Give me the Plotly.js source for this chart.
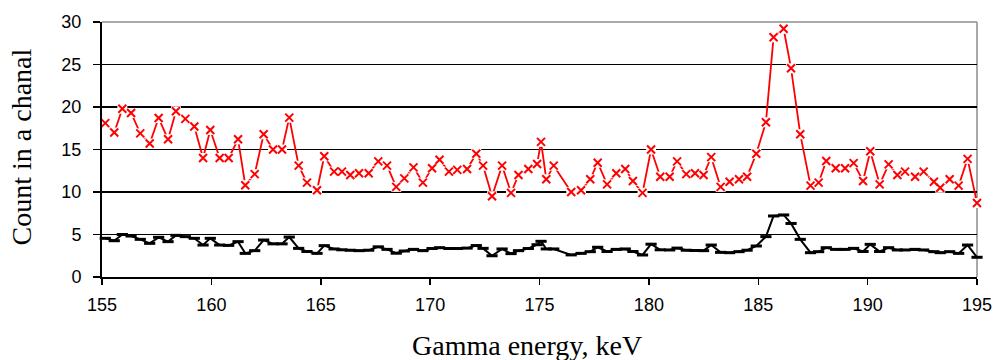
<!DOCTYPE html>
<html>
<head>
<meta charset="utf-8">
<script src="https://cdn.plot.ly/plotly-3.0.1.min.js"></script>
<style>
  html, body { margin: 0; padding: 0; background: #ffffff; }
  #chart { width: 997px; height: 360px; }
</style>
</head>
<body>
<div id="chart"></div>
<script>
// Gamma energy of each channel (keV)
const energyKeV = [155.15,155.56,155.93,156.33,156.75,157.18,157.59,158.02,158.38,158.81,
  159.22,159.62,159.95,160.38,160.79,161.22,161.55,161.98,162.39,162.82,
  163.23,163.56,163.99,164.37,164.83,165.16,165.61,165.97,166.35,166.75,
  167.19,167.63,168.03,168.45,168.82,169.24,169.67,170.09,170.43,170.86,
  171.24,171.69,172.11,172.42,172.83,173.29,173.70,174.04,174.49,174.89,
  175.07,175.31,175.65,176.45,176.90,177.32,177.66,178.09,178.51,178.92,
  179.27,179.71,180.10,180.52,180.95,181.29,181.71,182.11,182.50,182.85,
  183.28,183.69,184.12,184.49,184.91,185.35,185.70,186.16,186.50,186.92,
  187.39,187.76,188.11,188.54,188.97,189.36,189.79,190.12,190.55,190.96,
  191.36,191.71,192.17,192.56,193.03,193.32,193.75,194.16,194.57,195.00];

// Upper (red) spectrum counts
const redCounts = [18.1,17.0,19.8,19.3,16.9,15.7,18.7,16.2,19.5,18.6,
  17.7,14.0,17.3,14.0,14.0,16.2,10.8,12.1,16.8,15.0,
  15.0,18.75,13.1,11.1,10.2,14.2,12.4,12.4,12.0,12.2,
  12.2,13.6,13.1,10.6,11.6,12.9,11.1,12.8,13.8,12.4,
  12.6,12.7,14.5,13.1,9.5,13.1,9.9,12.0,12.7,13.3,
  15.9,11.5,13.1,10.0,10.2,11.5,13.45,10.9,12.2,12.7,
  11.3,9.9,15.0,11.8,11.8,13.6,12.1,12.2,12.0,14.1,
  10.6,11.2,11.5,11.8,14.5,18.2,28.2,29.2,24.55,16.8,
  10.75,11.1,13.65,12.8,12.8,13.4,11.3,14.8,10.9,13.25,
  12.0,12.4,11.8,12.4,11.2,10.5,11.5,10.75,13.9,8.7];

// Lower (black) spectrum counts
const blackCounts = [4.55,4.27,5.0,4.82,4.43,3.96,4.67,4.16,4.9,4.75,
  4.55,3.76,4.55,3.76,3.72,4.16,2.78,3.1,4.35,3.9,
  3.9,4.7,3.37,3.0,2.78,3.69,3.3,3.2,3.15,3.1,
  3.15,3.55,3.25,2.8,3.06,3.25,3.1,3.35,3.45,3.35,
  3.35,3.4,3.7,3.37,2.5,3.3,2.75,3.1,3.35,3.8,
  4.2,3.3,3.3,2.6,2.78,2.98,3.5,3.0,3.25,3.3,
  3.0,2.59,3.86,3.2,3.18,3.4,3.15,3.12,3.1,3.76,
  2.9,2.86,2.98,3.15,3.65,4.75,7.18,7.3,6.3,4.43,
  2.86,2.98,3.45,3.25,3.25,3.37,3.0,3.84,3.0,3.45,
  3.18,3.18,3.25,3.18,2.98,2.86,2.98,2.78,3.76,2.32];

const xTickVals = [155,160,165,170,175,180,185,190,195];
const yTickVals = [0,5,10,15,20,25,30];
const xTitle = 'Gamma energy, keV';
const yTitle = 'Count in a chanal';

const sans = 'Liberation Sans, Arial, sans-serif';
const serif = 'Liberation Serif, Times New Roman, serif';

const traces = [
  { x: energyKeV, y: blackCounts, type: 'scatter', mode: 'lines+markers',
    line: { color: '#000000', width: 2 },
    marker: { symbol: 'line-ew', size: 8, color: '#000000', line: { color: '#000000', width: 3 } },
    cliponaxis: false, hoverinfo: 'skip', showlegend: false },
  { x: energyKeV, y: redCounts, type: 'scatter', mode: 'lines',
    line: { color: '#ff0000', width: 1.8 }, hoverinfo: 'skip', showlegend: false },
  { x: energyKeV, y: redCounts, type: 'scatter', mode: 'markers',
    marker: { symbol: 'square', size: 10, color: '#ffffff', line: { width: 0 } },
    cliponaxis: false, hoverinfo: 'skip', showlegend: false },
  { x: energyKeV, y: redCounts, type: 'scatter', mode: 'markers',
    marker: { symbol: 'x-thin', size: 8, color: '#ff0000', line: { color: '#ff0000', width: 2 } },
    cliponaxis: false, hoverinfo: 'skip', showlegend: false }
];

const layout = {
  width: 997, height: 360,
  margin: { l: 102, r: 20, t: 22, b: 83, pad: 0 },
  paper_bgcolor: '#ffffff', plot_bgcolor: '#ffffff',
  showlegend: false,
  xaxis: {
    range: [155, 195], tickvals: xTickVals, ticktext: xTickVals.map(String),
    ticks: 'outside', ticklen: 6, tickwidth: 1.5, tickcolor: '#000000',
    ticklabelstandoff: 5,
    showline: true, linecolor: '#000000', linewidth: 1.5,
    showgrid: false, zeroline: false,
    tickfont: { family: sans, size: 18, color: '#000000' }
  },
  yaxis: {
    range: [0, 30], tickvals: yTickVals, ticktext: yTickVals.map(String),
    ticks: 'outside', ticklen: 7, tickwidth: 1.3, tickcolor: '#000000',
    ticklabelstandoff: 8,
    showline: true, linecolor: '#000000', linewidth: 2,
    showgrid: true, gridcolor: '#000000', gridwidth: 1.3,
    zeroline: false,
    tickfont: { family: sans, size: 18, color: '#000000' }
  },
  shapes: [
    { type: 'line', xref: 'paper', yref: 'paper', x0: 0, x1: 1, y0: 1, y1: 1,
      line: { color: '#8c8c8c', width: 1.5 }, layer: 'above' },
    { type: 'line', xref: 'paper', yref: 'paper', x0: 1, x1: 1, y0: 0, y1: 1,
      line: { color: '#8c8c8c', width: 1.5 }, layer: 'below' }
  ],
  annotations: [
    { text: yTitle, xref: 'paper', yref: 'paper', x: -0.092, y: 0.51,
      xanchor: 'center', yanchor: 'middle', textangle: -90, showarrow: false,
      font: { family: serif, size: 28, color: '#000000' } },
    { text: xTitle, xref: 'paper', yref: 'paper', x: 0.486, y: -0.27,
      xanchor: 'center', yanchor: 'middle', showarrow: false,
      font: { family: serif, size: 28, color: '#000000' } }
  ]
};

Plotly.newPlot('chart', traces, layout, { staticPlot: true, displayModeBar: false });
</script>
</body>
</html>
